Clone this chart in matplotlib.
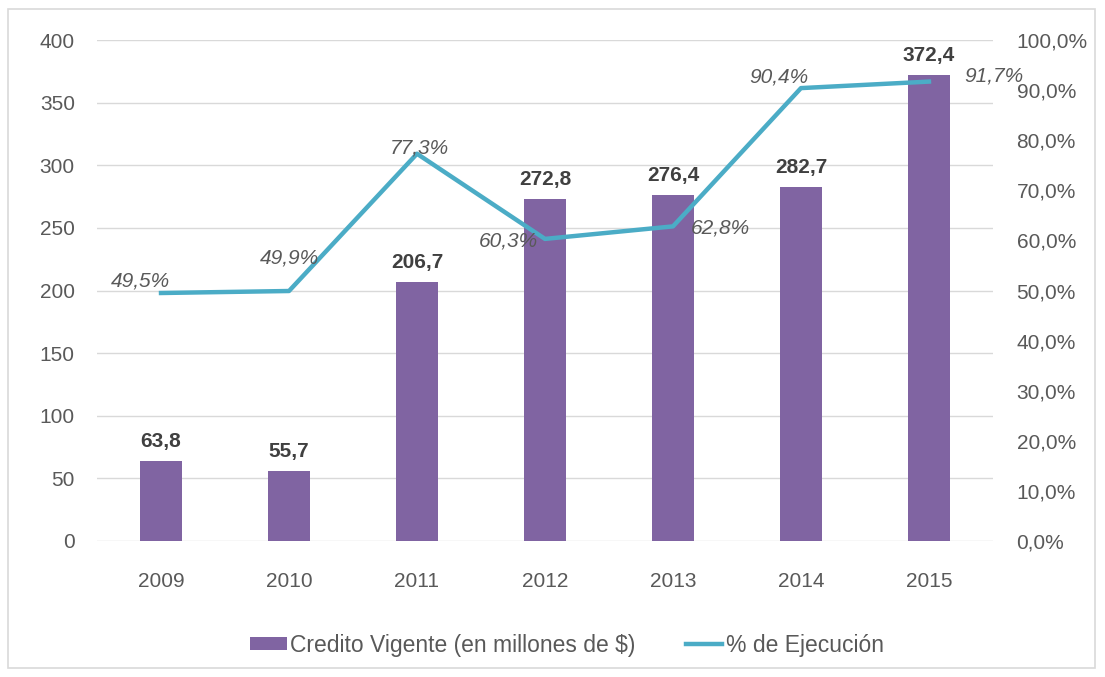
import matplotlib
matplotlib.use("Agg")
import matplotlib.pyplot as plt
from matplotlib.patches import Rectangle
import numpy as np

plt.rcParams['font.family'] = ['Liberation Sans', 'DejaVu Sans']

# Dati
anni = ["2009", "2010", "2011", "2012", "2013", "2014", "2015"]
credito = [63.8, 55.7, 206.7, 272.8, 276.4, 282.7, 372.4]
ejecucion = [49.5, 49.9, 77.3, 60.3, 62.8, 90.4, 91.7]

# posizione etichette percentuali (pixel)
pct_offsets = [(-21, 12), (0, 33), (2, 6), (-37, -2), (47, -2), (-22, 11), (65, 6)]

testo = "#595959"
viola = "#8064a2"
azzurro = "#4bacc6"

fig = plt.figure(figsize=(11.05, 6.77), dpi=100)
ax = fig.add_axes([0.0878, 0.2009, 0.8108, 0.74])
ax2 = ax.twinx()

x = np.arange(len(anni))
ax.bar(x, credito, width=0.33, color=viola, zorder=2, label="Credito Vigente (en millones de $)")
ax.set_ylim(0, 400)
ax.set_xlim(-0.5, len(anni) - 0.5)
ax.set_yticks(range(0, 401, 50))
ax.set_xticks(x)
ax.set_xticklabels(anni)
ax.grid(axis='y', color="#d9d9d9", linewidth=1, zorder=0)
ax.set_axisbelow(True)

for xi, v in zip(x, credito):
    ax.annotate(f"{v:.1f}".replace(".", ","), (xi, v), xytext=(0, 10),
                textcoords='offset pixels', ha='center', va='bottom',
                fontsize=15, fontweight='bold', color="#404040")

ax2.plot(x, ejecucion, color=azzurro, linewidth=3.2, zorder=3, label="% de Ejecución")
ax2.set_ylim(0, 100)
ax2.set_yticks(range(0, 101, 10))
ax2.set_yticklabels([f"{t},0%" for t in range(0, 101, 10)])

for xi, v, off in zip(x, ejecucion, pct_offsets):
    ax2.annotate(f"{v:.1f}%".replace(".", ","), (xi, v), xytext=off,
                 textcoords='offset pixels', ha='center', va='center',
                 fontsize=15, fontstyle='italic', color=testo)

for a in (ax, ax2):
    for s in a.spines.values():
        s.set_visible(False)
    a.tick_params(length=0, labelsize=15, labelcolor=testo)
ax.tick_params(axis='y', pad=16)
ax.tick_params(axis='x', pad=22)
ax2.tick_params(axis='y', pad=17)

# legenda
h1, l1 = ax.get_legend_handles_labels()
h2, l2 = ax2.get_legend_handles_labels()
fig.legend(h1 + h2, l1 + l2, loc='center', bbox_to_anchor=(0.513, 0.047),
           ncol=2, frameon=False, fontsize=16.5, labelcolor=testo,
           handlelength=1.6, handleheight=0.55, columnspacing=2.2, handletextpad=0.15)

# bordo esterno
fig.patches.append(Rectangle((8 / 1105, 9 / 677), 1087 / 1105, 659 / 677,
                             transform=fig.transFigure, fill=False,
                             edgecolor="#d9d9d9", linewidth=1.2))

fig.savefig("out.png", dpi=100)
